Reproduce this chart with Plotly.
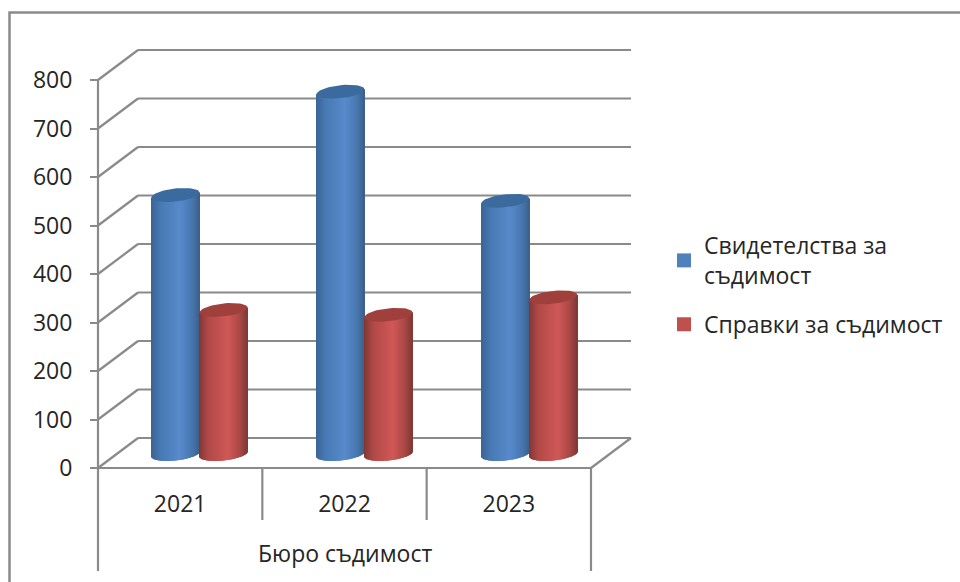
import numpy as np
import plotly.graph_objects as go

categories = ["2021", "2022", "2023"]
series_a_name = "Свидетелства за<br>съдимост"
series_b_name = "Справки за съдимост"
series_a = [534, 747, 522]
series_b = [297, 287, 323]
y_ticks = [0, 100, 200, 300, 400, 500, 600, 700, 800]
group_title = "Бюро съдимост"

W, H = 960, 582
PX_X0, PX_CAT = 98.0, 164.33      # pixel of category edge 0, pixels per category
PX_Y0, PX_UNIT = 468.0, 0.485     # pixel of value 0, pixels per value unit
DEPTH_X, DEPTH_Y = 40, 30         # back wall offset in pixels
CYL_W = 48                        # cylinder width px
CYL_STEP = 164.9                  # pixels between cylinder groups
GREY = "#8a8a8a"
TEXT = "#262626"
FONT = "Open Sans"
FS = 23

X = lambda px: (px - PX_X0) / PX_CAT
Y = lambda px: (PX_Y0 - px) / PX_UNIT

BLUE_STOPS = [(0, (58, 100, 148)), (.2, (72, 122, 180)), (.6, (88, 138, 204)), (.85, (72, 120, 176)), (1, (60, 96, 140))]
RED_STOPS = [(0, (130, 56, 54)), (.2, (178, 74, 72)), (.6, (208, 88, 86)), (.85, (170, 72, 70)), (1, (128, 56, 54))]


def shade(t, stops):
    ts = [s[0] for s in stops]
    return "rgb(%d,%d,%d)" % tuple(np.interp(t, ts, [s[1][k] for s in stops]) for k in range(3))


def cylinders(values, left_px, stops, top_color, name):
    n = CYL_W
    xs, bases, heights, colors = [], [], [], []
    ex, ey = [], []
    b, s = 6.5, 2.5                   # ellipse half height, tilt in px
    floor_px = PX_Y0 - 14
    for i, v in enumerate(values):
        cx = left_px + i * CYL_STEP + CYL_W / 2
        top_px = floor_px - v * PX_UNIT
        for k in range(n):
            t = (k + .5) / n
            u = 2 * t - 1
            bot = floor_px + b * np.sqrt(1 - u * u) - s * u
            top = top_px - s * u
            xs.append(X(cx + u * CYL_W / 2))
            bases.append(Y(bot))
            heights.append(Y(top) - Y(bot))
            colors.append(shade(t, stops))
        th = np.linspace(0, 2 * np.pi, 60)
        ex += list(X(cx + np.cos(th) * CYL_W / 2)) + [None]
        ey += list(Y(top_px + b * np.sin(th) - s * np.cos(th))) + [None]
    bars = go.Bar(x=xs, y=heights, base=bases, width=1.35 / PX_CAT, marker=dict(color=colors, line=dict(width=0)),
                  showlegend=False, hoverinfo="skip", name=name)
    tops = go.Scatter(x=ex, y=ey, mode="lines", fill="toself", fillcolor=top_color, line=dict(width=0),
                      showlegend=False, hoverinfo="skip")
    return [bars, tops]


fig = go.Figure()
fig.add_traces(cylinders(series_a, 151.5, BLUE_STOPS, "#3b6a9e", series_a_name))
fig.add_traces(cylinders(series_b, 199.5, RED_STOPS, "#a0403d", series_b_name))
for nm, col in [(series_a_name, "#4f81bd"), (series_b_name, "#c0504d")]:
    fig.add_trace(go.Scatter(x=[None], y=[None], mode="markers", name=nm, legendgroup=nm,
                             marker=dict(symbol="square", size=14, color=col)))


def line(x0, y0, x1, y1):
    return dict(type="line", xref="x", yref="y", x0=x0, y0=y0, x1=x1, y1=y1, layer="below",
                line=dict(color=GREY, width=2.2))


shapes = []
dx, dy = DEPTH_X / PX_CAT, DEPTH_Y / PX_UNIT
for v in y_ticks:
    shapes.append(line(0, v, dx, v + dy))
    shapes.append(line(dx, v + dy, 3 + dx, v + dy))
shapes.append(line(0, 0, 0, y_ticks[-1]))
shapes.append(line(0, 0, 3, 0))
shapes.append(line(3, 0, 3 + dx, dy))
for i in range(len(categories) + 1):
    end = 571 if i in (0, len(categories)) else 520
    shapes.append(line(i, 0, i, Y(end)))
# outer chart frame
shapes.append(dict(type="path", xref="paper", yref="paper", layer="below",
                   path=f"M {9.5/W} 0 L {9.5/W} {1-12.5/H} L 1 {1-12.5/H}",
                   line=dict(color=GREY, width=2.5)))

fig.update_layout(
    width=W, height=H, autosize=False, margin=dict(l=0, r=0, t=0, b=0),
    paper_bgcolor="white", plot_bgcolor="white", barmode="overlay", shapes=shapes,
    font=dict(family=FONT, size=FS, color=TEXT),
    xaxis=dict(range=[X(0), X(W)], showgrid=False, zeroline=False, anchor="free",
               position=1 - PX_Y0 / H, tickmode="array", tickvals=[.5, 1.5, 2.5], ticktext=categories,
               ticks="", ticklabelstandoff=20, tickfont=dict(size=FS, color=TEXT)),
    yaxis=dict(range=[Y(H), Y(0)], showgrid=False, zeroline=False, anchor="free", position=PX_X0 / W,
               tickmode="array", tickvals=y_ticks, ticks="outside", ticklen=8, tickwidth=2, tickcolor=GREY,
               ticklabelstandoff=13, tickfont=dict(size=FS, color=TEXT)),
    annotations=[dict(x=1.5, y=Y(553), xref="x", yref="y", text=group_title, showarrow=False,
                      font=dict(size=FS, color=TEXT))],
    legend=dict(x=664 / W, y=1 - 224 / H, xanchor="left", yanchor="top", tracegroupgap=16,
                bgcolor="rgba(0,0,0,0)", itemwidth=30, font=dict(size=FS, color=TEXT)),
)
fig.write_html("out.html", config={"displayModeBar": False},
               post_script="document.body.style.margin='0';document.documentElement.style.overflow='hidden';")
